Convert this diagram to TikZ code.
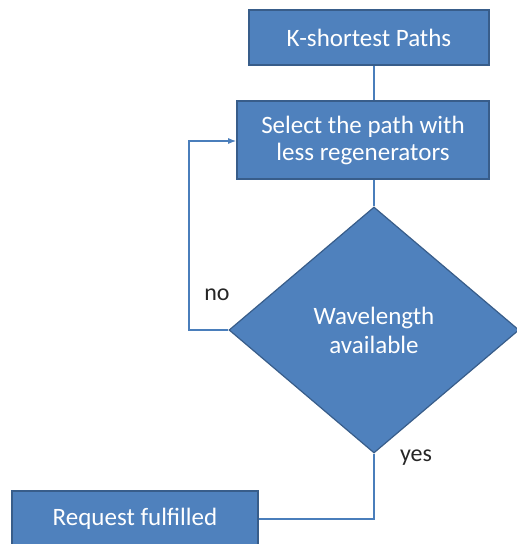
\documentclass[tikz,border=0pt]{standalone}
\usepackage{fontspec}
\setmainfont{Carlito}
\usetikzlibrary{shapes.geometric,arrows.meta}
\definecolor{boxfill}{HTML}{4F81BD}
\definecolor{boxline}{HTML}{385D8A}
\definecolor{linkcol}{HTML}{4A7EBB}
\tikzset{
  x=1pt, y=-1pt,
  procbox/.style={draw=boxline, line width=1.6pt, fill=boxfill, text=white,
    font=\fontsize{25}{27}\selectfont, align=center, inner sep=0pt},
  decision/.style={diamond, draw=boxline, line width=1.2pt, fill=boxfill, text=white,
    font=\fontsize{25}{29}\selectfont, align=center, inner sep=0pt},
  link/.style={draw=linkcol, line width=1.3pt},
  tag/.style={font=\fontsize{24}{26}\selectfont, text=black!85}
}
\begin{document}
\begin{tikzpicture}
\useasboundingbox (0,0) rectangle (517,544);
% process boxes
\node[procbox, minimum width=240pt, minimum height=55pt] (kpaths) at (369,37.5) {K-shortest Paths};
\node[procbox, minimum width=252pt, minimum height=78pt] (select) at (363,140) {Select the path with\\less regenerators};
\node[decision, minimum width=290pt, minimum height=246pt] (wave) at (374,330) {Wavelength\\available};
\node[procbox, minimum width=246pt, minimum height=56pt] (done) at (135,519) {Request fulfilled};
% connectors
\draw[link] (kpaths.south -| wave.north) -- (select.north -| wave.north);
\draw[link] (select.south -| wave.north) -- (wave.north);
\draw[link, -{Latex[length=8pt,width=6pt]}] (wave.west) -- (189,330) -- (189,141) -- (select.west |- 0,141);
\draw[link] (wave.south) -- (374,519) -- (done.east);
% branch labels
\node[tag] (no) at (217,295) {no};
\node[tag] (yes) at (416,458) {yes};
\end{tikzpicture}
\end{document}
